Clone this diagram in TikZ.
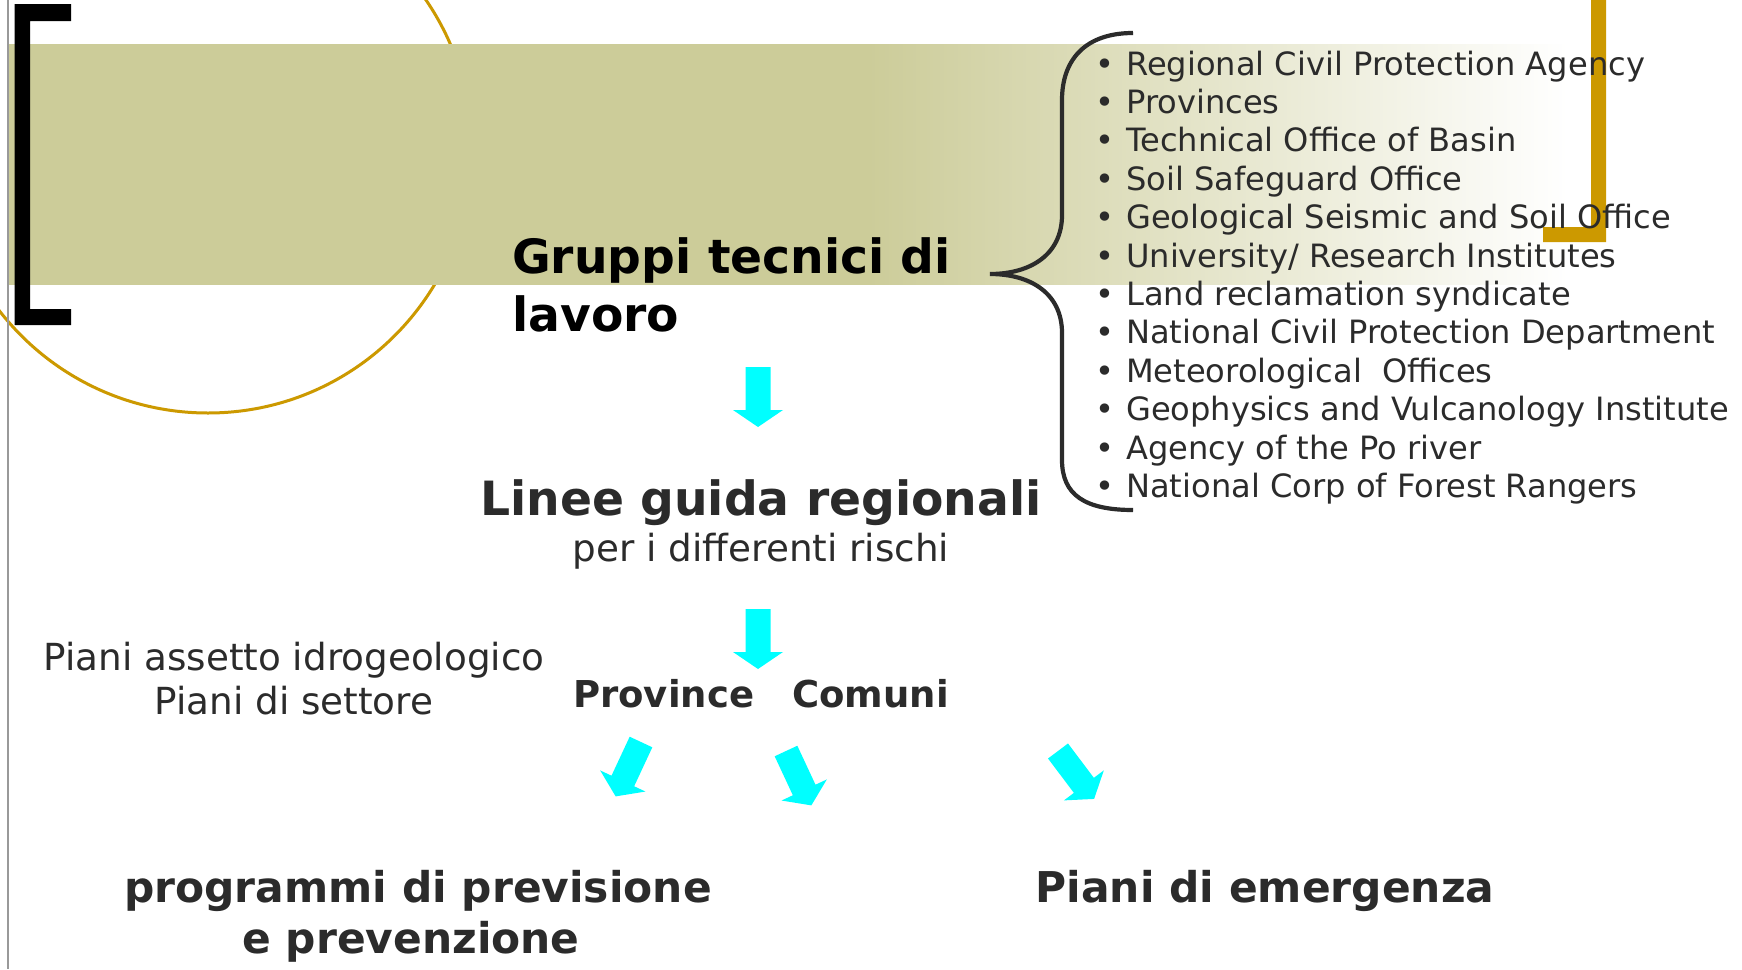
\documentclass[tikz,border=0pt]{standalone}
\usepackage{fontspec}
\setmainfont{DejaVu Sans}
\definecolor{olivebg}{RGB}{204,204,153}
\definecolor{goldc}{RGB}{204,153,0}
\definecolor{textgray}{RGB}{43,43,43}
\definecolor{arrowc}{RGB}{0,255,255}
\pgfdeclarehorizontalshading{bandfade}{100bp}{rgb(0bp)=(0.8,0.8,0.6); rgb(52bp)=(0.8,0.8,0.6); rgb(74bp)=(1,1,1); rgb(100bp)=(1,1,1)}
\begin{document}
\begin{tikzpicture}[x=1pt,y=-1pt,
  txt/.style={inner sep=0pt, text=textgray},
  item/.style={txt, font=\fontsize{32.1}{38}\selectfont},
  bigbold/.style={txt, font=\bfseries\fontsize{47.2}{56}\selectfont},
  midbold/.style={txt, font=\bfseries\fontsize{37}{44}\selectfont},
  midreg/.style={txt, font=\fontsize{37.3}{44}\selectfont},
  lowbold/.style={txt, font=\bfseries\fontsize{42.4}{50}\selectfont},
  blockarrow/.pic={\fill[arrowc] (-12.5,0) -- (12.5,0) -- (12.5,43) -- (25,43) -- (0,60) -- (-25,43) -- (-12.5,43) -- cycle;}]
\useasboundingbox (0,0) rectangle (1742,969);
\fill[white] (0,0) rectangle (1742,969);
% decorative circle
\draw[goldc, line width=3pt] (208,149) circle[radius=264pt];
% band
\shade[shading=bandfade] (8,44) rectangle (1600,284);
% left gray rule
\draw[black!40, line width=1.5pt] (8,0) -- (8,969);
% black bracket
\fill[black] (14.5,4) -- (71,4) -- (71,21) -- (30,21) -- (30,309) -- (71,309) -- (71,325) -- (14.5,325) -- cycle;
% gold bracket
\fill[goldc] (1591,0) -- (1606,0) -- (1606,242) -- (1543,242) -- (1543,227) -- (1591,227) -- cycle;
% curly brace
\draw[textgray, line width=4.2pt] (1133,33) .. controls (1085,33) and (1062,60) .. (1062,100) -- (1062,215) .. controls (1062,255) and (1030,274) .. (990,274) .. controls (1030,274) and (1062,293) .. (1062,333) -- (1062,460) .. controls (1062,495) and (1085,510) .. (1133,510);
% list
\foreach \t [count=\i] in {Regional Civil Protection Agency, Provinces, Technical Office of Basin, Soil Safeguard Office, Geological Seismic and Soil Office, University/ Research Institutes, Land reclamation syndicate, National Civil Protection Department, Meteorological\ \ Offices, Geophysics and Vulcanology Institute, Agency of the Po river, National Corp of Forest Rangers}{
  \node[item, anchor=base] (b\i) at (1105,{75+38.4*(\i-1)}) {\textbullet};
  \node[item, anchor=base west] (l\i) at (1126,{75+38.4*(\i-1)}) {\t};
}
% main texts
\node[bigbold, text=black, anchor=base west] (gruppi1) at (512,273) {Gruppi tecnici di};
\node[bigbold, text=black, anchor=base west] (gruppi2) at (512,331) {lavoro};
\node[bigbold, anchor=base] (linee) at (761,515) {Linee guida regionali};
\node[midreg, anchor=base] (per) at (761,561) {per i differenti rischi};
\node[midreg, anchor=base] (piani1) at (294,670) {Piani assetto idrogeologico};
\node[midreg, anchor=base] (piani2) at (294,714) {Piani di settore};
\node[midbold, anchor=base west] (province) at (573,707) {Province};
\node[midbold, anchor=base west] (comuni) at (792,707) {Comuni};
\node[lowbold, anchor=base] (prog1) at (418,902) {programmi di previsione};
\node[lowbold, anchor=base] (prog2) at (411,953) {e prevenzione};
\node[lowbold, anchor=base] (emerg) at (1265,902) {Piani di emergenza};
% arrows
\pic (a1) at (758,367) {blockarrow};
\pic (a2) at (758,609) {blockarrow};
\pic[rotate=-25] (a3) at (641,742) {blockarrow};
\pic[rotate=25] (a4) at (786,751) {blockarrow};
\pic[rotate=37] (a5) at (1058,751) {blockarrow};
\end{tikzpicture}
\end{document}
